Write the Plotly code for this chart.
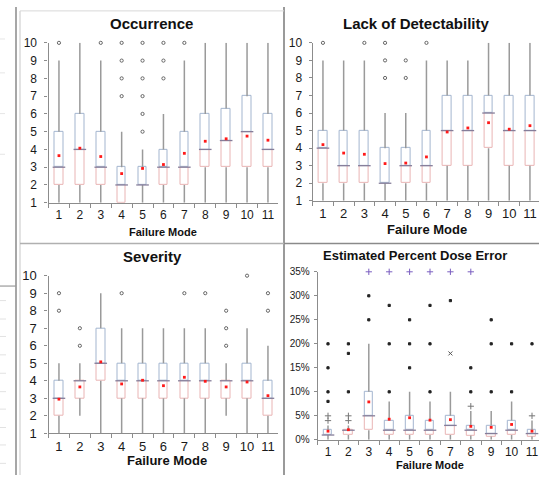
import plotly.graph_objects as go

W, H = 539, 483

modes = [str(m) for m in range(1, 12)]

# ---------------- Occurrence ----------------
occ_low = [1, 1, 1, 1, 1, 1, 1, 1, 1, 1, 1]
occ_q1 = [2, 2, 2, 1, 2, 2, 2, 3, 3, 3, 3]
occ_med = [3, 4, 3, 2, 2, 3, 3, 4, 4.5, 5, 4]
occ_q3 = [5, 6, 5, 3, 3, 4, 5, 6, 6.3, 7, 6]
occ_high = [9, 10, 9, 5, 4, 6, 9, 10, 10, 10, 10]
occ_mean = [3.65, 4.07, 3.6, 2.64, 2.93, 3.15, 3.78, 4.46, 4.6, 4.75, 4.52]
occ_out_mode = ["1", "3", "4", "4", "4", "4", "5", "5", "5", "5", "5", "5", "6", "6", "6", "7"]
occ_out_val = [10, 10, 7, 8, 9, 10, 5, 6, 7, 8, 9, 10, 8, 9, 10, 10]

# ---------------- Lack of Detectability ----------------
det_low = [1, 1, 1, 1, 1, 1, 1, 1, 1, 1, 1]
det_q1 = [2, 2, 2, 2, 2, 2, 3, 3, 4, 3, 3]
det_med = [4, 3, 3, 2, 3, 3, 5, 5, 6, 5, 5]
det_q3 = [5, 5, 5, 4, 4, 5, 7, 7, 7, 7, 7]
det_high = [9, 9, 9, 6, 6, 9, 9, 9, 10, 10, 10]
det_mean = [4.2, 3.72, 3.65, 3.12, 3.15, 3.5, 4.92, 5.15, 5.45, 5.08, 5.28]
det_out_mode = ["1", "3", "4", "4", "4", "5", "5", "6"]
det_out_val = [10, 10, 8, 9, 10, 8, 9, 10]

# ---------------- Severity ----------------
sev_low = [1, 2, 1, 1, 1, 1, 1, 1, 2, 1, 1]
sev_q1 = [2, 3, 4, 3, 3, 3, 3, 3, 3, 3, 2]
sev_med = [3, 4, 5, 4, 4, 4, 4, 4, 4, 4, 3]
sev_q3 = [4, 4, 7, 5, 5, 5, 5, 5, 4, 5, 4]
sev_high = [5, 5, 9, 7, 7, 7, 7, 7, 5, 7, 6]
sev_mean = [2.95, 3.65, 5.08, 3.82, 4.03, 3.72, 4.2, 3.97, 3.65, 3.93, 3.15]
sev_out_mode = ["1", "1", "2", "2", "4", "7", "8", "9", "9", "9", "10", "11", "11"]
sev_out_val = [8, 9, 6, 7, 9, 9, 9, 6, 7, 8, 10, 8, 9]

# ---------------- Estimated Percent Dose Error (%) ----------------
dose_low = [0, 0, 0, 0, 0, 0, 0, 0, 0, 0, 0]
dose_q1 = [1, 1, 2, 1, 1, 1, 1, 0.9, 0.7, 1, 0.7]
dose_med = [1, 2, 5, 2, 2, 2, 3, 2, 1.3, 2, 1.3]
dose_q3 = [2, 2, 10, 4, 5, 4, 5, 3, 3, 4, 2]
dose_high = [3, 3, 20, 8, 10, 8, 10, 6, 6, 8, 4]
dose_mean = [1.8, 2.1, 7.9, 4.3, 4.6, 4.1, 4.2, 2.8, 2.6, 3.2, 1.8]
dose_dot_mode = ["1", "1", "1", "1", "2", "2", "2", "3", "3", "4", "4", "4",
                 "5", "5", "5", "6", "6", "6", "7", "8", "8", "9", "9", "9",
                 "10", "10", "11"]
dose_dot_val = [8, 10, 15, 20, 10, 18, 20, 25, 30, 10, 20, 28,
                15, 20, 25, 10, 20, 28, 29, 10, 15, 10, 20, 25,
                10, 20, 20]
dose_plus_mode = ["1", "1", "2", "2", "8", "11"]
dose_plus_val = [4, 5, 4, 5, 7, 5]
dose_x_mode = ["7"]
dose_x_val = [18]
dose_cap_mode = ["3", "4", "5", "6", "7", "8"]
dose_cap_val = [35, 35, 35, 35, 35, 35]

FONT = "Liberation Sans, Arial, sans-serif"
BLUE = "#a3b5cf"
RED = "#e9b4b4"
MED = "#857d99"
WHISK = "#9a9a9a"

fig = go.Figure()


def add_box_set(xa, ya, low, q1, med, q3, high, mean, width, med_size):
    wx, wy = [], []
    for m, lo, a, b, hi in zip(modes, low, q1, q3, high):
        wx += [m, m, None, m, m, None]
        wy += [lo, a, None, b, hi, None]
    fig.add_trace(go.Scatter(x=wx, y=wy, mode="lines", xaxis=xa, yaxis=ya,
                             line=dict(color=WHISK, width=1.5), hoverinfo="skip",
                             showlegend=False, cliponaxis=False))
    lower = [(m - a) if m - a > 0 else None for a, m in zip(q1, med)]
    upper = [(b - m) if b - m > 0 else None for m, b in zip(med, q3)]
    fig.add_trace(go.Bar(x=modes, y=lower, base=q1, width=width, xaxis=xa, yaxis=ya,
                         marker=dict(color="rgba(255,255,255,1)", line=dict(color=RED, width=1)),
                         showlegend=False))
    fig.add_trace(go.Bar(x=modes, y=upper, base=med, width=width, xaxis=xa, yaxis=ya,
                         marker=dict(color="rgba(255,255,255,1)", line=dict(color=BLUE, width=1)),
                         showlegend=False))
    fig.add_trace(go.Scatter(x=modes, y=med, mode="markers", xaxis=xa, yaxis=ya,
                             marker=dict(symbol="line-ew", size=med_size,
                                         line=dict(color=MED, width=1.3)),
                             showlegend=False, cliponaxis=False))
    fig.add_trace(go.Scatter(x=modes, y=mean, mode="markers", xaxis=xa, yaxis=ya,
                             marker=dict(symbol="square", size=2.8, color="#ff1a1a"),
                             showlegend=False, cliponaxis=False))


def add_outliers(xa, ya, xs, ys, symbol, color, size, lw=1):
    fig.add_trace(go.Scatter(x=xs, y=ys, mode="markers", xaxis=xa, yaxis=ya,
                             marker=dict(symbol=symbol, size=size, color=color,
                                         line=dict(color=color, width=lw)),
                             showlegend=False, cliponaxis=False))


add_box_set("x", "y", occ_low, occ_q1, occ_med, occ_q3, occ_high, occ_mean, 0.41, 9)
add_outliers("x", "y", occ_out_mode, occ_out_val, "circle-open", "#666666", 3.2)

add_box_set("x2", "y2", det_low, det_q1, det_med, det_q3, det_high, det_mean, 0.42, 9)
add_outliers("x2", "y2", det_out_mode, det_out_val, "circle-open", "#666666", 3.2)

add_box_set("x3", "y3", sev_low, sev_q1, sev_med, sev_q3, sev_high, sev_mean, 0.41, 9)
add_outliers("x3", "y3", sev_out_mode, sev_out_val, "circle-open", "#666666", 3.2)

add_box_set("x4", "y4", dose_low, dose_q1, dose_med, dose_q3, dose_high, dose_mean, 0.42, 9)
add_outliers("x4", "y4", dose_dot_mode, dose_dot_val, "square", "#222222", 2.2)
add_outliers("x4", "y4", dose_plus_mode, dose_plus_val, "cross-thin-open", "#777777", 4.5)
add_outliers("x4", "y4", dose_x_mode, dose_x_val, "x-thin-open", "#555555", 4)
add_outliers("x4", "y4", dose_cap_mode, dose_cap_val, "cross-thin-open", "#7b5fc0", 4.5)


def fx(px):
    return px / W


def fy(py):
    return 1 - py / H


AX = dict(showgrid=False, zeroline=False, showline=True, linecolor="#8c8c8c",
          linewidth=1.2, ticks="outside", tickcolor="#8c8c8c", ticklen=3,
          tickfont=dict(family=FONT, size=12, color="#1a1a1a"), fixedrange=True)

XAX = dict(AX, type="category", categoryorder="array", categoryarray=modes,
           tickson="boundaries", ticklen=4, ticklabelstandoff=1, tickangle=0)


def xdef(x0, x1, spacing, **kw):
    left = fx(x0)
    right = min(1.0, fx(x1))
    r_end = -0.5 + (min(x1, W) - x0) / spacing
    d = dict(XAX, domain=[left, right], range=[-0.5, r_end])
    d.update(kw)
    return d


fig.update_layout(
    width=W, height=H, margin=dict(l=0, r=0, t=0, b=0),
    paper_bgcolor="white", plot_bgcolor="white",
    barmode="overlay", bargap=0, showlegend=False,
    xaxis=xdef(48.5, 278.4, 20.9, anchor="y"),
    yaxis=dict(AX, domain=[fy(202), fy(37)], range=[1, 10], dtick=1, tick0=1,
               anchor="x", ticklabelstandoff=5),
    xaxis2=xdef(312.6, 540.3, 20.7, anchor="y2",
                tickfont=dict(family=FONT, size=13, color="#1a1a1a")),
    yaxis2=dict(AX, domain=[fy(200), fy(37)], range=[1, 10], dtick=1, tick0=1,
                anchor="x2", ticklabelstandoff=4),
    xaxis3=xdef(48.5, 278.4, 20.9, anchor="y3",
                tickfont=dict(family=FONT, size=13, color="#1a1a1a")),
    yaxis3=dict(AX, domain=[fy(440), fy(277.3)], range=[1, 10], dtick=1, tick0=1,
                anchor="x3", ticklabelstandoff=5,
                tickfont=dict(family=FONT, size=13, color="#1a1a1a")),
    xaxis4=xdef(317.8, 542.2, 20.4, anchor="y4"),
    yaxis4=dict(AX, domain=[fy(446.7), fy(273.3)], range=[0, 35], dtick=5, tick0=0,
                ticksuffix="%", anchor="x4", ticklabelstandoff=2,
                tickfont=dict(family=FONT, size=10, color="#1a1a1a")),
)

ann = [
    ("<b>Occurrence</b>", 151, 17, 15),
    ("<b>Lack of Detectability</b>", 416, 17, 15),
    ("<b>Severity</b>", 152, 257, 15),
    ("<b>Estimated Percent Dose Error</b>", 415, 256, 13),
    ("<b>Failure Mode</b>", 163, 232, 11),
    ("<b>Failure Mode</b>", 427, 230, 13),
    ("<b>Failure Mode</b>", 167, 468, 13),
    ("<b>Failure Mode</b>", 430, 473, 11),
]
for text, px, py, size in ann:
    fig.add_annotation(text=text, x=fx(px), y=fy(py), xref="paper", yref="paper",
                       showarrow=False, xanchor="center", yanchor="middle",
                       font=dict(family=FONT, size=size, color="#111111"))

shapes = [
    dict(x0=fx(16), x1=fx(16), y0=0, y1=1, color="#8a8a8a", w=1.5),
    dict(x0=fx(20), x1=fx(20), y0=0, y1=fy(4), color="#d0d0d0", w=1.2),
    dict(x0=fx(284), x1=fx(284), y0=0, y1=1, color="#9a9a9a", w=2),
    dict(x0=fx(20), x1=fx(284), y0=fy(244), y1=fy(244), color="#b0b0b0", w=1.5),
    dict(x0=fx(284), x1=1, y0=fy(244), y1=fy(244), color="#8a8a8a", w=1.5),
    dict(x0=fx(20), x1=fx(284), y0=fy(4), y1=fy(4), color="#d8d8d8", w=1),
    dict(x0=0, x1=fx(16), y0=fy(288), y1=fy(288), color="#9a9a9a", w=1.2),
]
# faint fragments of a neighbouring table at the far left edge
for py in [303, 322, 340, 359, 378, 397, 415, 434, 452, 471]:
    shapes.append(dict(x0=0, x1=fx(6), y0=fy(py), y1=fy(py), color="#e2e2e2", w=1))
for py in [33, 68, 110, 152]:
    shapes.append(dict(x0=0, x1=fx(5), y0=fy(py), y1=fy(py), color="#e6e6e6", w=1))
for s in shapes:
    fig.add_shape(type="line", xref="paper", yref="paper", x0=s["x0"], x1=s["x1"],
                  y0=s["y0"], y1=s["y1"], line=dict(color=s["color"], width=s["w"]))

fig.write_html("out.html", config={"displayModeBar": False},
               post_script="document.body.style.margin='0px';document.body.style.overflow='hidden';")
